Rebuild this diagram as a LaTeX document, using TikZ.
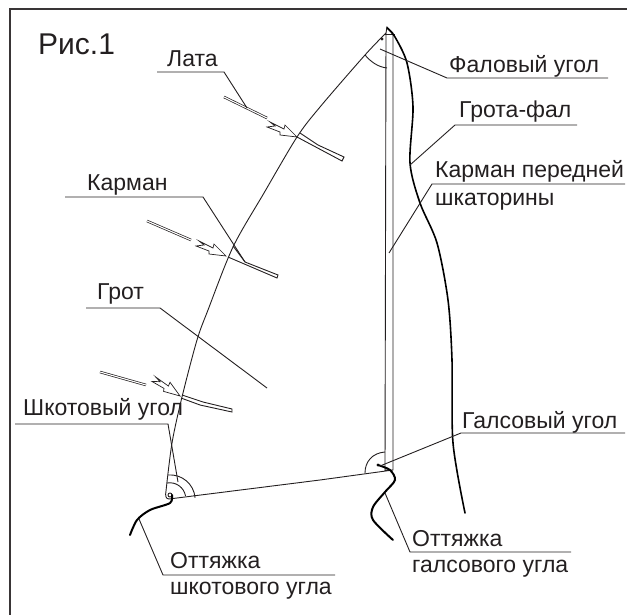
\documentclass[tikz,border=0pt]{standalone}
\usepackage{fontspec}
\setmainfont{Liberation Sans}
\definecolor{inkdark}{HTML}{231F20}
\tikzset{
  lbl/.style={anchor=base west,inner sep=0pt,text=inkdark,font=\fontsize{23}{26}\selectfont},
  thin line/.style={draw=inkdark,line width=.9pt},
  rope/.style={draw=black,line width=1.6pt,line cap=round},
  batten/.style={draw=inkdark,line width=.7pt,double=white,double distance=1.1pt},
  battarrow/.pic={
    \draw[thin line,line width=.7pt,line join=miter] (0,0) -- (-12,-12) -- (-13,-8) -- (-27,-15) -- (-22,-11)
      -- (-30,-10) -- (-17,-5) -- (-17,-2) -- cycle;
  }
}
\begin{document}
\begin{tikzpicture}[x=1pt,y=-1pt]
  \useasboundingbox (0,0) rectangle (627,615);
  \draw[draw=inkdark!90,line width=2.6pt] (10,615) -- (10,9) -- (627,9);

  \node[anchor=base west,inner sep=0pt,text=inkdark,font=\fontsize{30}{32}\selectfont] (title) at (38,55) {Рис.1};
  \node[lbl] (lata) at (167,67) {Лата};
  \node[lbl] (karman) at (87,190) {Карман};
  \node[lbl] (grot) at (97,299) {Грот};
  \node[lbl] (shkot) at (23,415) {Шкотовый угол};
  \node[lbl] (otshkot) at (170,568) {Оттяжка};
  \node[lbl] (otshkotb) at (170,594) {шкотового угла};
  \node[lbl] (fal) at (449,73) {Фаловый угол};
  \node[lbl] (grotfal) at (459,118) {Грота-фал};
  \node[lbl] (luff) at (435,178) {Карман передней};
  \node[lbl] (luffb) at (435,205) {шкаторины};
  \node[lbl] (gals) at (462,428) {Галсовый угол};
  \node[lbl] (otgals) at (412,546) {Оттяжка};
  \node[lbl] (otgalsb) at (412,572) {галсового угла};

  \coordinate (head) at (387,27);
  \coordinate (clew) at (170,495);
  \coordinate (tack) at (378,465);

  % sail
  \draw[thin line] plot[smooth] coordinates {(386,33) (365,55) (320,107) (297,137) (264,193) (233,247) (208,310) (197,340) (182,397) (172,443) (166,491)}
    .. controls (165,496) and (166,499) .. (169,499);
  \draw[thin line] (169,499) -- (320,480) -- (393,470) -- (393,33) -- (387,27) -- (386,33) -- (385,470) -- (393,470);
  \draw[thin line] (384,34) -- (395,34);
  \draw[thin line] (clew) circle[radius=2];
  \fill[inkdark] (382,39) circle[radius=1.6];
  \fill[inkdark] (tack) circle[radius=1.6];

  % angles
  \draw[thin line] (168,475) arc[start angle=-95,end angle=-5,radius=25];
  \draw[thin line] (167,483) arc[start angle=-100,end angle=-10,radius=16];
  \draw[thin line] (365,55) .. controls (371,62) and (378,67) .. (387,68);
  \draw[thin line] (385,452) .. controls (372,453) and (365,462) .. (365,473);

  % ropes
  \draw[rope] plot[smooth] coordinates {(387,28) (395,37) (407,63) (413,107) (410,163) (420,203) (437,243) (448,300) (452,360) (453,443) (465,513)};
  \draw[rope,line width=2pt] plot[smooth] coordinates {(172,495) (170,503) (150,510) (137,520) (130,535)};
  \draw[rope,line width=2pt] plot[smooth] coordinates {(378,465) (390,470) (395,480) (385,492) (373,507) (373,520) (393,540)};

  % battens
  \draw[batten] (224,97) -- (267,118);
  \draw[batten] (147,221) -- (191,240);
  \draw[batten] (100,372) -- (146,385);
  \pic at (297,137) {battarrow};
  \pic at (226,256) {battarrow};
  \pic[rotate=-9] at (180,396) {battarrow};

  % pockets
  \draw[thin line] (297,137) -- (342,161) -- (344,157) -- (318,145) -- (300,133);
  \draw[thin line] (228,257) -- (277,278) -- (278,275) -- (245,262) -- (233,246);
  \draw[thin line] (181,398) -- (200,405) -- (232,412) -- (232,409) -- (203,402) -- (182,395);

  % leaders
  \draw[thin line] (157,72) -- (224,72) -- (247,108);
  \draw[thin line] (65,197) -- (203,197) -- (245,262);
  \draw[thin line] (86,308) -- (160,308) -- (267,388);
  \draw[thin line] (15,424) -- (168,424) -- (178,482);
  \draw[thin line] (139,519) -- (163,575) -- (335,575);
  \draw[thin line] (380,49) -- (447,78) -- (608,78);
  \draw[thin line] (410,165) -- (455,125) -- (577,125);
  \draw[thin line] (389,253) -- (432,184) -- (625,184);
  \draw[thin line] (380,466) -- (461,433) -- (625,433);
  \draw[thin line] (385,493) -- (410,552) -- (571,552);
\end{tikzpicture}
\end{document}
